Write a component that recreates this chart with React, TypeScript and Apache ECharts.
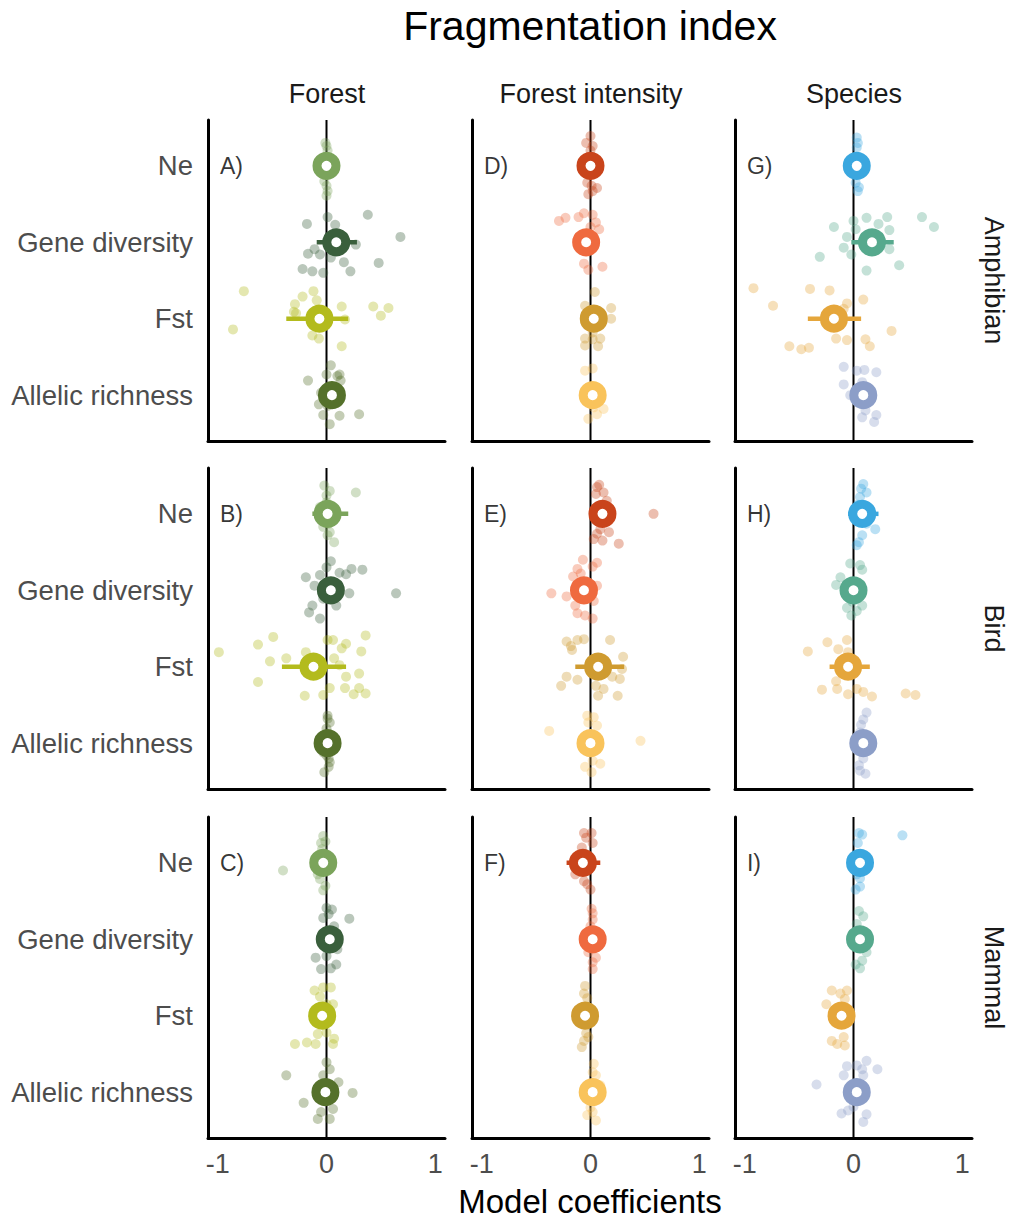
import React, { useEffect, useRef } from "react";
import * as echarts from "echarts";

const CATS = ["Ne", "Gene diversity", "Fst", "Allelic richness"];
const COL_TITLES = ["Forest", "Forest intensity", "Species"];
const ROW_TITLES = ["Amphibian", "Bird", "Mammal"];
const PANEL_TAGS = [["A)", "D)", "G)"], ["B)", "E)", "H)"], ["C)", "F)", "I)"]];
const X_TICKS = [-1, 0, 1];

const FOREST_COLORS = ["#7ba45b", "#3a5f3c", "#b3bb1d", "#55712b"];
const INTENSITY_COLORS = ["#c9441b", "#ef6a3f", "#cf9b30", "#f9c35b"];
const SPECIES_COLORS = ["#3aa7df", "#56a98d", "#e5a63b", "#8c9ec8"];

// Panel A (Amphibian, Forest)
const MEAN_A = [0.0, 0.09, -0.065, 0.05];
const CI_A = [[-0.02, 0.02], [-0.09, 0.28], [-0.37, 0.2], [0.02, 0.08]];
const PTS_A = [
  [[-0.01, -0.3], [0.0, -0.26], [0.01, -0.2], [0.0, -0.1], [-0.01, 0.12], [-0.02, 0.2], [0.0, 0.26], [0.01, 0.33], [0.0, 0.39]],
  [[0.01, -0.33], [0.38, -0.36], [-0.18, -0.24], [0.08, -0.23], [0.68, -0.07], [0.27, 0.03], [-0.11, 0.09], [-0.17, 0.15], [-0.06, 0.16], [0.16, 0.26], [0.48, 0.27], [-0.22, 0.35], [-0.13, 0.38], [-0.03, 0.4], [0.22, 0.38], [0.04, 0.2]],
  [[-0.76, -0.36], [-0.86, 0.14], [-0.12, -0.36], [-0.22, -0.29], [-0.09, -0.24], [-0.29, -0.19], [-0.3, -0.09], [0.14, -0.16], [0.43, -0.16], [0.57, -0.14], [0.5, -0.04], [0.17, 0.01], [-0.13, 0.22], [-0.07, 0.26], [0.14, 0.36], [-0.28, -0.07]],
  [[0.04, -0.39], [0.0, -0.27], [0.1, -0.25], [0.12, -0.27], [-0.17, -0.19], [0.13, -0.19], [-0.05, -0.03], [-0.07, 0.12], [0.1, 0.1], [-0.03, 0.26], [0.12, 0.27], [0.3, 0.25], [0.03, 0.38], [0.01, 0.14]],
];

// Panel B (Bird, Forest)
const MEAN_B = [0.01, 0.04, -0.12, 0.01];
const CI_B = [[-0.13, 0.2], [0.0, 0.08], [-0.41, 0.18], [-0.01, 0.03]];
const PTS_B = [
  [[-0.02, -0.37], [0.03, -0.3], [0.27, -0.28], [0.0, -0.24], [-0.03, 0.17], [0.03, 0.24], [0.07, 0.37], [0.01, 0.28], [-0.06, -0.09], [0.06, 0.09], [0.0, -0.15], [0.02, 0.13]],
  [[0.04, -0.38], [-0.19, -0.17], [-0.11, -0.06], [0.12, -0.23], [0.23, -0.28], [0.33, -0.27], [0.64, 0.04], [0.21, 0.04], [-0.16, 0.29], [-0.06, 0.37], [0.09, 0.2], [-0.03, 0.11], [0.18, -0.21], [-0.06, -0.2], [-0.13, 0.2], [0.0, -0.3]],
  [[-0.99, -0.19], [-0.63, -0.29], [-0.49, -0.39], [-0.52, -0.07], [-0.63, 0.2], [-0.37, -0.11], [-0.19, -0.19], [0.01, -0.35], [0.06, -0.35], [0.18, -0.3], [0.36, -0.41], [0.32, -0.2], [0.14, -0.24], [0.07, -0.11], [0.3, 0.09], [0.18, 0.13], [0.17, 0.28], [0.3, 0.28], [0.25, 0.36], [0.36, 0.35], [-0.03, 0.37], [-0.2, 0.38], [0.03, 0.28], [0.12, -0.02]],
  [[0.01, -0.36], [0.03, -0.27], [0.0, -0.19], [0.0, 0.16], [0.03, 0.25], [-0.02, 0.38], [0.02, 0.31], [0.04, -0.1], [-0.03, 0.12], [0.01, -0.32], [0.02, 0.2]],
];

// Panel C (Mammal, Forest)
const MEAN_C = [-0.03, 0.03, -0.04, -0.01];
const CI_C = [[-0.05, -0.01], [0.01, 0.05], [-0.06, -0.02], [-0.03, 0.01]];
const PTS_C = [
  [[-0.4, 0.1], [-0.03, -0.35], [-0.05, -0.26], [-0.01, -0.28], [-0.06, 0.21], [-0.01, 0.3], [-0.03, 0.36], [-0.08, 0.15], [-0.04, -0.18]],
  [[0.0, -0.41], [0.05, -0.39], [0.21, -0.27], [-0.03, -0.28], [0.07, -0.17], [-0.1, 0.24], [0.0, 0.22], [0.09, 0.33], [-0.05, 0.39], [0.04, 0.38], [0.1, 0.13], [0.02, -0.33]],
  [[-0.11, -0.33], [-0.03, -0.37], [0.04, -0.37], [0.0, -0.15], [0.06, -0.15], [-0.29, 0.37], [-0.18, 0.35], [-0.1, 0.37], [0.06, 0.37], [0.07, 0.3], [0.0, 0.22], [-0.08, 0.24], [-0.06, -0.25]],
  [[-0.37, -0.22], [-0.21, 0.14], [0.24, 0.01], [0.0, -0.39], [0.03, -0.3], [-0.03, -0.22], [0.11, -0.13], [-0.05, 0.26], [0.03, 0.35], [-0.08, 0.35], [0.06, 0.22]],
];

// Panel D (Amphibian, Forest intensity)
const MEAN_D = [0.0, -0.04, 0.03, 0.02];
const CI_D = [[-0.02, 0.02], [-0.06, -0.02], [0.0, 0.06], [0.0, 0.04]];
const PTS_D = [
  [[0.0, -0.39], [-0.04, -0.3], [0.02, -0.26], [0.0, -0.2], [-0.03, 0.22], [0.01, 0.26], [0.06, 0.29], [-0.02, 0.37], [0.02, 0.33]],
  [[-0.29, -0.28], [-0.23, -0.32], [-0.11, -0.33], [-0.06, -0.38], [0.02, -0.36], [0.05, -0.26], [0.08, -0.17], [-0.06, 0.28], [-0.02, 0.36], [0.11, 0.32], [-0.09, 0.0], [0.0, -0.2]],
  [[0.04, -0.35], [-0.05, -0.17], [0.19, -0.14], [0.19, 0.0], [-0.05, 0.26], [0.02, 0.27], [0.09, 0.26], [-0.05, 0.35], [0.07, 0.36], [0.02, 0.18]],
  [[0.02, -0.35], [-0.05, -0.32], [0.12, 0.18], [0.06, 0.25], [-0.02, 0.31], [0.03, 0.16]],
];

// Panel E (Bird, Forest intensity)
const MEAN_E = [0.11, -0.06, 0.07, 0.0];
const CI_E = [[0.06, 0.16], [-0.09, -0.03], [-0.14, 0.31], [-0.02, 0.02]];
const PTS_E = [
  [[0.06, -0.35], [0.12, -0.28], [0.05, -0.26], [0.15, -0.17], [0.58, 0.0], [0.17, 0.24], [0.06, 0.26], [0.11, 0.35], [0.26, 0.39], [0.03, 0.33], [0.09, 0.2], [0.08, -0.38]],
  [[-0.07, -0.4], [-0.12, -0.28], [0.06, -0.36], [0.02, -0.31], [-0.16, -0.18], [-0.36, 0.04], [-0.22, 0.08], [0.06, -0.06], [0.03, 0.14], [-0.12, 0.3], [-0.05, 0.33], [0.02, 0.37], [-0.14, 0.2], [-0.09, -0.22]],
  [[-0.22, -0.33], [-0.18, -0.27], [-0.12, -0.35], [-0.06, -0.36], [0.18, -0.35], [0.3, -0.13], [0.29, 0.03], [0.2, 0.13], [0.27, 0.16], [-0.27, 0.25], [-0.22, 0.13], [-0.12, 0.17], [0.05, 0.25], [0.12, 0.29], [0.07, 0.38], [0.25, 0.38], [-0.17, -0.22]],
  [[-0.38, -0.16], [0.46, -0.03], [-0.03, -0.36], [0.03, -0.34], [0.06, -0.23], [-0.02, -0.27], [-0.05, 0.31], [0.09, 0.27], [0.01, 0.38], [0.02, 0.23]],
];

// Panel F (Mammal, Forest intensity)
const MEAN_F = [-0.07, 0.02, -0.05, 0.02];
const CI_F = [[-0.22, 0.09], [0.0, 0.04], [-0.07, -0.03], [0.0, 0.04]];
const PTS_F = [
  [[-0.06, -0.39], [0.01, -0.39], [-0.04, -0.33], [0.02, -0.26], [-0.14, 0.15], [-0.06, 0.24], [0.0, 0.35], [-0.03, 0.28], [-0.11, 0.09], [-0.08, -0.2]],
  [[0.02, -0.34], [0.02, -0.26], [0.0, -0.17], [-0.02, 0.17], [0.02, 0.3], [0.02, 0.39], [0.05, 0.24], [0.01, -0.4]],
  [[-0.05, -0.39], [-0.06, -0.29], [-0.03, -0.23], [-0.04, 0.23], [-0.06, 0.33], [-0.08, 0.41], [-0.02, 0.28]],
  [[0.03, -0.37], [0.02, -0.26], [0.05, -0.22], [0.09, -0.09], [0.02, 0.26], [-0.03, 0.3], [0.05, 0.37], [0.0, 0.2]],
];

// Panel G (Amphibian, Species)
const MEAN_G = [0.03, 0.17, -0.18, 0.09];
const CI_G = [[0.01, 0.05], [-0.02, 0.37], [-0.42, 0.07], [0.05, 0.13]];
const PTS_G = [
  [[0.03, -0.37], [0.04, -0.3], [0.03, -0.24], [0.05, 0.28], [0.04, 0.33], [0.02, 0.22]],
  [[0.0, -0.28], [0.12, -0.32], [0.31, -0.33], [0.63, -0.33], [0.74, -0.2], [-0.18, -0.2], [-0.06, -0.07], [0.23, -0.24], [0.33, -0.16], [-0.09, 0.07], [-0.31, 0.19], [-0.02, 0.16], [0.33, 0.09], [0.42, 0.3], [0.12, 0.37], [0.02, -0.17]],
  [[-0.92, -0.4], [-0.74, -0.17], [-0.4, -0.39], [-0.22, -0.37], [-0.06, -0.2], [0.09, -0.25], [0.35, 0.16], [-0.16, 0.26], [-0.06, 0.28], [0.11, 0.27], [0.15, 0.36], [-0.59, 0.36], [-0.48, 0.4], [-0.41, 0.38], [-0.09, -0.13]],
  [[-0.09, -0.37], [0.03, -0.32], [0.1, -0.33], [0.21, -0.3], [-0.09, -0.14], [0.08, -0.17], [-0.03, 0.0], [0.11, 0.2], [0.21, 0.26], [0.19, 0.35], [0.08, 0.29], [0.02, 0.05]],
];

// Panel H (Bird, Species)
const MEAN_H = [0.08, 0.0, -0.05, 0.09];
const CI_H = [[-0.05, 0.23], [-0.02, 0.02], [-0.22, 0.15], [0.07, 0.11]];
const PTS_H = [
  [[0.09, -0.39], [0.07, -0.33], [0.12, -0.28], [0.06, -0.22], [0.2, 0.2], [0.08, 0.28], [0.05, 0.37], [0.03, 0.41], [0.12, 0.13], [0.04, -0.12]],
  [[-0.03, -0.35], [0.06, -0.33], [-0.16, -0.07], [-0.12, -0.17], [-0.06, 0.23], [0.03, 0.27], [0.08, 0.2], [-0.02, 0.33], [0.08, -0.27], [-0.01, 0.15]],
  [[-0.42, -0.2], [-0.24, -0.32], [-0.14, -0.23], [-0.06, -0.35], [-0.05, -0.19], [-0.16, 0.19], [-0.29, 0.3], [-0.15, 0.29], [-0.05, 0.36], [0.09, 0.33], [0.17, 0.39], [0.48, 0.35], [0.57, 0.37], [0.03, 0.29]],
  [[0.12, -0.4], [0.09, -0.31], [0.06, -0.14], [0.09, 0.2], [0.06, 0.36], [0.05, 0.29], [0.02, 0.07], [0.11, 0.4], [0.07, -0.24]],
];

// Panel I (Mammal, Species)
const MEAN_I = [0.06, 0.06, -0.11, 0.03];
const CI_I = [[0.04, 0.08], [0.04, 0.08], [-0.13, -0.09], [0.01, 0.05]];
const PTS_I = [
  [[0.05, -0.39], [0.08, -0.37], [0.45, -0.36], [0.04, -0.26], [0.06, 0.2], [0.02, 0.35], [0.06, 0.31], [0.03, 0.15]],
  [[0.05, -0.37], [0.09, -0.3], [0.03, -0.2], [0.12, 0.17], [0.08, 0.28], [0.06, 0.38], [0.02, 0.33], [0.07, 0.1]],
  [[-0.2, -0.33], [-0.12, -0.29], [-0.06, -0.33], [-0.08, -0.22], [-0.25, -0.15], [-0.2, 0.33], [-0.09, 0.28], [-0.15, 0.37], [-0.08, 0.39]],
  [[-0.34, -0.1], [-0.06, -0.34], [0.03, -0.35], [0.12, -0.41], [0.22, -0.3], [-0.09, -0.22], [0.09, -0.22], [0.08, -0.3], [-0.11, 0.28], [0.0, 0.19], [0.12, 0.29], [0.09, 0.39], [-0.05, 0.24]],
];

const PANELS = [
  [
    { mean: MEAN_A, ci: CI_A, pts: PTS_A },
    { mean: MEAN_D, ci: CI_D, pts: PTS_D },
    { mean: MEAN_G, ci: CI_G, pts: PTS_G },
  ],
  [
    { mean: MEAN_B, ci: CI_B, pts: PTS_B },
    { mean: MEAN_E, ci: CI_E, pts: PTS_E },
    { mean: MEAN_H, ci: CI_H, pts: PTS_H },
  ],
  [
    { mean: MEAN_C, ci: CI_C, pts: PTS_C },
    { mean: MEAN_F, ci: CI_F, pts: PTS_F },
    { mean: MEAN_I, ci: CI_I, pts: PTS_I },
  ],
];
const COL_COLORS = [FOREST_COLORS, INTENSITY_COLORS, SPECIES_COLORS];

const FONT = "'Liberation Sans', Arial, Helvetica, sans-serif";
const GRID_LEFT = [208, 472, 735];
const GRID_TOP = [120, 468, 817];
const GRID_W = 237;
const GRID_H = 321;
const X_MIN = -1.09;
const X_MAX = 1.09;
const Y_MIN = -0.6;
const Y_MAX = 3.6;

function hexToRgba(hex: string, a: number) {
  const n = parseInt(hex.slice(1), 16);
  return `rgba(${(n >> 16) & 255},${(n >> 8) & 255},${n & 255},${a})`;
}

function buildOption() {
  const grid: any[] = [];
  const xAxis: any[] = [];
  const yAxis: any[] = [];
  const series: any[] = [];
  const graphic: any[] = [];

  for (let r = 0; r < 3; r++) {
    for (let c = 0; c < 3; c++) {
      const idx = r * 3 + c;
      const panel = PANELS[r][c];
      const colors = COL_COLORS[c];
      grid.push({ left: GRID_LEFT[c], top: GRID_TOP[r], width: GRID_W, height: GRID_H, containLabel: false });
      xAxis.push({
        type: "value",
        gridIndex: idx,
        min: X_MIN,
        max: X_MAX,
        axisLine: { show: true, onZero: false, lineStyle: { color: "#000", width: 3 } },
        axisTick: { show: false },
        splitLine: { show: false },
        axisLabel: {
          show: r === 2,
          customValues: X_TICKS,
          formatter: (v: number) => String(v),
          color: "#4d4d4d",
          fontSize: 27,
          fontFamily: FONT,
          margin: 12,
        },
      });
      yAxis.push({
        type: "value",
        gridIndex: idx,
        min: Y_MIN,
        max: Y_MAX,
        inverse: true,
        axisLine: { show: true, onZero: false, lineStyle: { color: "#000", width: 3 } },
        axisTick: { show: false },
        splitLine: { show: false },
        axisLabel: {
          show: c === 0,
          customValues: [0, 1, 2, 3],
          formatter: (v: number) => CATS[Math.round(v)] ?? "",
          color: "#4d4d4d",
          fontSize: 27.5,
          fontFamily: FONT,
          margin: 15,
        },
      });

      // zero reference line
      series.push({
        type: "line",
        xAxisIndex: idx,
        yAxisIndex: idx,
        data: [[0, Y_MIN], [0, Y_MAX]],
        symbol: "none",
        lineStyle: { color: "#000", width: 2 },
        silent: true,
        z: 1,
      });

      // jittered points
      const ptData: any[] = [];
      panel.pts.forEach((group: number[][], gi: number) => {
        group.forEach((p) => {
          ptData.push({
            value: [p[0], gi + p[1]],
            itemStyle: { color: hexToRgba(colors[gi], 0.35), opacity: 1 },
          });
        });
      });
      series.push({
        type: "scatter",
        xAxisIndex: idx,
        yAxisIndex: idx,
        data: ptData,
        symbolSize: 10,
        itemStyle: { opacity: 1 },
        silent: true,
        z: 2,
      });

      // error bars
      series.push({
        type: "custom",
        xAxisIndex: idx,
        yAxisIndex: idx,
        data: panel.ci.map((ci: number[], gi: number) => [ci[0], ci[1], gi]),
        encode: { x: [0, 1], y: 2 },
        renderItem: (params: any, api: any) => {
          const lo = api.coord([api.value(0), api.value(2)]);
          const hi = api.coord([api.value(1), api.value(2)]);
          return {
            type: "line",
            shape: { x1: lo[0], y1: lo[1], x2: hi[0], y2: hi[1] },
            style: { stroke: colors[params.dataIndex], lineWidth: 4.5 },
          };
        },
        silent: true,
        z: 3,
      });

      // mean rings
      series.push({
        type: "scatter",
        xAxisIndex: idx,
        yAxisIndex: idx,
        data: panel.mean.map((m: number, gi: number) => ({
          value: [m, gi],
          itemStyle: { color: "#ffffff", borderColor: colors[gi], borderWidth: 9, opacity: 1 },
        })),
        symbolSize: 19,
        itemStyle: { opacity: 1 },
        silent: true,
        z: 4,
      });

      // panel tag
      series.push({
        type: "scatter",
        xAxisIndex: idx,
        yAxisIndex: idx,
        data: [[-0.985, 0]],
        symbolSize: 1,
        itemStyle: { color: "rgba(0,0,0,0)" },
        label: {
          show: true,
          position: "right",
          distance: 0,
          formatter: PANEL_TAGS[r][c],
          color: "#000",
          fontSize: 23,
          fontFamily: FONT,
        },
        silent: true,
        z: 5,
      });
    }
  }

  graphic.push({
    type: "text",
    x: 590,
    y: 26,
    style: { text: "Fragmentation index", fontSize: 41, fontFamily: FONT, fill: "#000", align: "center", verticalAlign: "middle" },
  });
  COL_TITLES.forEach((t, c) => {
    graphic.push({
      type: "text",
      x: GRID_LEFT[c] + 119,
      y: 94,
      style: { text: t, fontSize: 27, fontFamily: FONT, fill: "#1a1a1a", align: "center", verticalAlign: "middle" },
    });
  });
  ROW_TITLES.forEach((t, r) => {
    graphic.push({
      type: "text",
      x: 994,
      y: GRID_TOP[r] + GRID_H / 2,
      rotation: -Math.PI / 2,
      style: { text: t, fontSize: 27, fontFamily: FONT, fill: "#1a1a1a", align: "center", verticalAlign: "middle" },
    });
  });
  graphic.push({
    type: "text",
    x: 590,
    y: 1201,
    style: { text: "Model coefficients", fontSize: 33, fontFamily: FONT, fill: "#000", align: "center", verticalAlign: "middle" },
  });

  return {
    animation: false,
    backgroundColor: "#ffffff",
    textStyle: { fontFamily: FONT },
    grid,
    xAxis,
    yAxis,
    series,
    graphic,
  };
}

export default function App() {
  const ref = useRef<HTMLDivElement>(null);
  useEffect(() => {
    document.body.style.margin = "0";
    if (!ref.current) return;
    const chart = echarts.init(ref.current, undefined, { renderer: "svg" });
    chart.setOption(buildOption() as any);
    return () => chart.dispose();
  }, []);
  return <div ref={ref} style={{ width: 1011, height: 1220 }} />;
}
